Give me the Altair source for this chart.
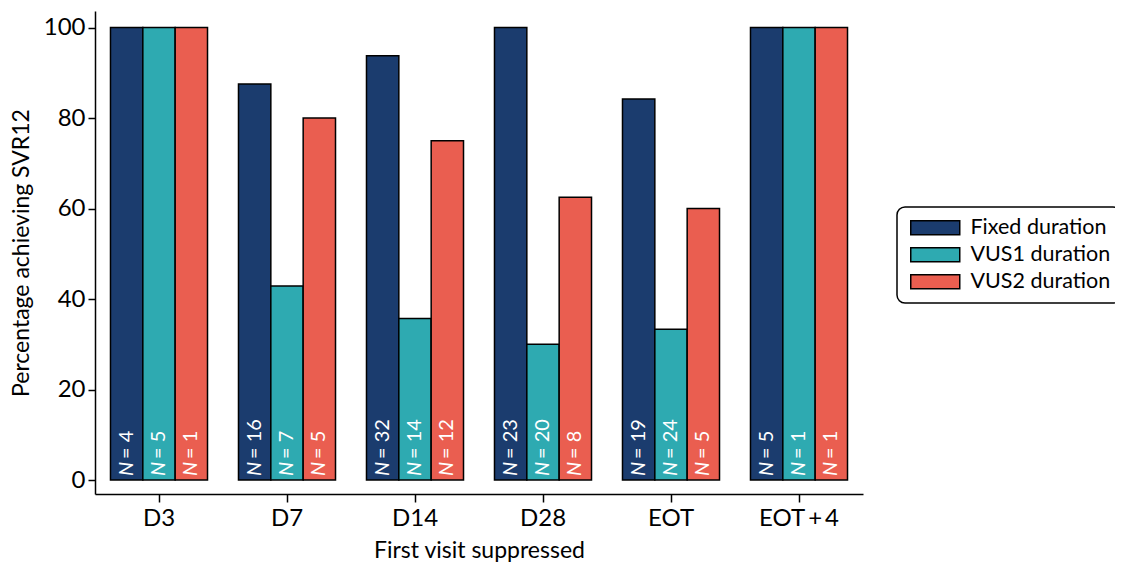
import altair as alt
import pandas as pd

visits = ["D3", "D7", "D14", "D28", "EOT", "EOT\u2009+\u20094"]
groups = ["Fixed duration", "VUS1 duration", "VUS2 duration"]
fixed_pct = [100, 87.5, 93.75, 100, 84.2, 100]
vus1_pct = [100, 42.9, 35.7, 30.0, 33.3, 100]
vus2_pct = [100, 80.0, 75.0, 62.5, 60.0, 100]
fixed_n = [4, 16, 32, 23, 19, 5]
vus1_n = [5, 7, 14, 20, 24, 1]
vus2_n = [1, 5, 12, 8, 5, 1]
colors = ["#1B3C6E", "#2EAAB1", "#EA5E50"]

rows = []
for g, pcts, ns in zip(groups, [fixed_pct, vus1_pct, vus2_pct], [fixed_n, vus1_n, vus2_n]):
    for v, p, n in zip(visits, pcts, ns):
        rows.append({"visit": v, "group": g, "pct": p, "rest": f"= {n}", "nlab": "N"})
df = pd.DataFrame(rows)

FONT = "Lato"

x = alt.X("visit:N", sort=visits, title="First visit suppressed",
          scale=alt.Scale(paddingInner=0.242, paddingOuter=0.121),
          axis=alt.Axis(labelAngle=0, labelFontSize=24, titleFontSize=23,
                        labelColor="black", titleColor="black", titleFontWeight="normal",
                        tickColor="black", domainColor="black", tickSize=8, tickWidth=1.5,
                        domainWidth=1.5, labelPadding=4, titlePadding=9,
                        labelFont=FONT, titleFont=FONT))
xo = alt.XOffset("group:N", sort=groups)
color = alt.Color("group:N", sort=groups, scale=alt.Scale(domain=groups, range=colors),
                  legend=alt.Legend(title=None, orient="none", legendX=802, legendY=196,
                                    labelFontSize=21.5, labelFont=FONT, labelColor="black",
                                    symbolType="M-1,-1H6V1H-1Z", symbolSize=196,
                                    symbolStrokeColor="black", symbolStrokeWidth=1.5,
                                    symbolOpacity=1, labelOffset=42,
                                    rowPadding=4, padding=10,
                                    strokeColor="black", cornerRadius=8,
                                    fillColor="white"))

y = alt.Y("pct:Q", title="Percentage achieving SVR12",
          scale=alt.Scale(domain=[-3.09, 103.65], nice=False, zero=False),
          axis=alt.Axis(values=[0, 20, 40, 60, 80, 100], labelFontSize=24, titleFontSize=23,
                        labelColor="black", titleColor="black", titleFontWeight="normal",
                        tickColor="black", domainColor="black", tickSize=7, tickWidth=1.5,
                        domainWidth=1.5, labelPadding=3, titlePadding=10, grid=False,
                        labelFont=FONT, titleFont=FONT))

base = alt.Chart(df)
bars = base.mark_bar(stroke="black", strokeWidth=1.5).encode(
    x=x, xOffset=xo, y=y, y2=alt.datum(0), color=color)
tn = base.mark_text(angle=270, align="left", baseline="middle", color="white",
                    fontSize=20, font=FONT, fontStyle="italic", dx=4).encode(
    x=alt.X("visit:N", sort=visits), xOffset=xo, y=alt.datum(0), text="nlab:N")
tr = base.mark_text(angle=270, align="left", baseline="middle", color="white",
                    fontSize=20, font=FONT, dx=21).encode(
    x=alt.X("visit:N", sort=visits), xOffset=xo, y=alt.datum(0), text="rest:N")

chart = alt.layer(bars, tn, tr).properties(
    width=768, height=483,
    autosize=alt.AutoSizeParams(type="none"),
    padding={"left": 87, "top": 3, "right": 252, "bottom": 68},
).configure_view(stroke=None).configure_legend(strokeWidth=1.5)

chart.save("out.html", embed_options={"renderer": "svg", "actions": False})
